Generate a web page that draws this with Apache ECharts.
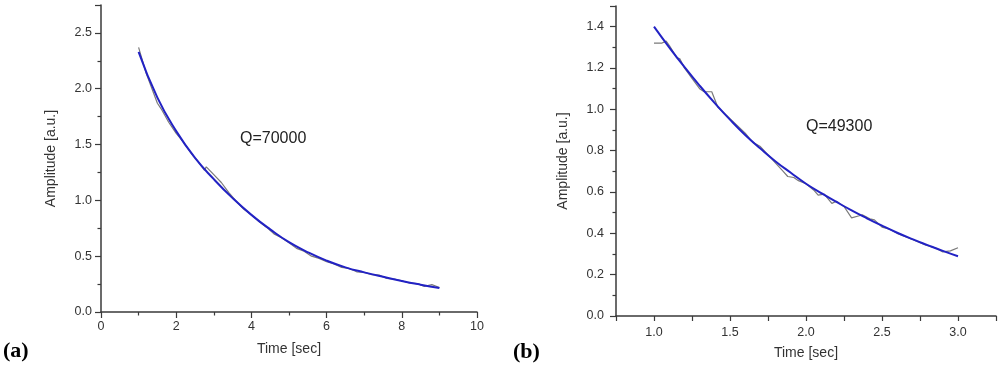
<!DOCTYPE html>
<html>
<head>
<meta charset="utf-8">
<script src="https://cdn.jsdelivr.net/npm/echarts@6/dist/echarts.min.js"></script>
<style>
html,body{margin:0;padding:0;background:#fff;}
#c{width:1000px;height:376px;}
</style>
</head>
<body>
<div id="c"></div>
<script>
// ---- Panel (a) data ----
const aFitTime = [1.0,1.5,2.0,2.5,3.0,3.5,4.0,4.5,5.0,5.5,6.0,6.5,7.0,7.5,8.0,8.5,9.0];
const aFitAmp  = [2.33,1.92,1.62,1.38,1.19,1.02,0.87,0.74,0.625,0.535,0.46,0.40,0.355,0.315,0.278,0.245,0.215];
const aMeasTime = [1.0,1.05,1.2,1.4,1.5,1.6,1.7,1.8,2.0,2.2,2.4,2.6,2.75,2.8,3.0,3.2,3.4,3.6,3.8,4.0,4.2,4.4,4.6,4.8,5.0,5.2,5.4,5.6,5.8,6.0,6.2,6.4,6.6,6.8,7.0,7.2,7.4,7.6,7.8,8.0,8.2,8.4,8.6,8.8,9.0];
const aMeasAmp  = [2.37,2.36,2.14,1.96,1.87,1.82,1.76,1.70,1.60,1.52,1.42,1.34,1.27,1.30,1.23,1.16,1.07,0.99,0.92,0.87,0.81,0.76,0.70,0.665,0.62,0.57,0.545,0.50,0.48,0.45,0.43,0.40,0.39,0.36,0.355,0.335,0.33,0.30,0.295,0.28,0.26,0.255,0.23,0.245,0.22];

// ---- Panel (b) data ----
const bFitTime = [1.0,1.1,1.2,1.3,1.4,1.5,1.6,1.7,1.8,1.9,2.0,2.1,2.2,2.3,2.4,2.5,2.6,2.7,2.8,2.9,3.0];
const bFitAmp  = [1.40,1.30,1.205,1.115,1.03,0.95,0.876,0.81,0.748,0.693,0.64,0.595,0.552,0.511,0.473,0.437,0.403,0.372,0.343,0.315,0.289];
const bMeasTime = [1.0,1.05,1.08,1.1,1.15,1.17,1.2,1.25,1.3,1.33,1.38,1.42,1.45,1.5,1.55,1.6,1.65,1.7,1.75,1.8,1.85,1.88,1.92,1.95,2.0,2.05,2.08,2.12,2.17,2.2,2.25,2.3,2.35,2.37,2.42,2.45,2.5,2.55,2.6,2.65,2.7,2.75,2.8,2.85,2.9,2.95,3.0];
const bMeasAmp  = [1.32,1.32,1.33,1.31,1.25,1.245,1.20,1.15,1.10,1.085,1.085,1.01,0.99,0.955,0.92,0.885,0.84,0.82,0.78,0.74,0.70,0.675,0.67,0.655,0.64,0.61,0.585,0.59,0.545,0.555,0.53,0.475,0.485,0.49,0.47,0.465,0.43,0.42,0.40,0.385,0.37,0.355,0.34,0.33,0.31,0.315,0.33];

// ---- Labels ----
const xName = 'Time [sec]';
const yName = 'Amplitude [a.u.]';
const qA = 'Q=70000';
const qB = 'Q=49300';
const panelA = '(a)';
const panelB = '(b)';

const pairs = (xs, ys) => xs.map((x, i) => [x, ys[i]]);
const FONT = 'Liberation Sans, Arial, sans-serif';
const axisColor = '#3a3a3a';
const labelColor = '#333';

function yAxisCfg(gridIndex, max, interval, margin, nameGap) {
  return {
    type: 'value', gridIndex, min: 0, max, interval,
    name: yName, nameLocation: 'middle', nameGap, nameRotate: 90,
    nameTextStyle: {fontFamily: FONT, fontSize: 14, color: labelColor},
    axisLine: {show: true, lineStyle: {color: axisColor, width: 1.5}},
    axisTick: {show: true, inside: false, length: 6, lineStyle: {color: axisColor, width: 1.2}},
    minorTick: {show: true, splitNumber: 2, length: 3.5, lineStyle: {color: axisColor, width: 1.2}},
    splitLine: {show: false}, minorSplitLine: {show: false},
    axisLabel: {fontFamily: FONT, fontSize: 12.5, color: labelColor, margin, showMaxLabel: false,
      formatter: v => v.toFixed(1)}
  };
}

const chart = echarts.init(document.getElementById('c'), null, {renderer: 'canvas'});
chart.setOption({
  animation: false,
  backgroundColor: '#fff',
  grid: [
    {left: 101, top: 5, width: 376, height: 307},
    {left: 616, top: 6, width: 380, height: 310}
  ],
  xAxis: [
    {
      type: 'value', gridIndex: 0, min: 0, max: 10, interval: 2,
      name: xName, nameLocation: 'middle', nameGap: 30,
      nameTextStyle: {fontFamily: FONT, fontSize: 14, color: labelColor},
      axisLine: {show: true, onZero: false, lineStyle: {color: axisColor, width: 1.5}},
      axisTick: {show: true, length: 6, lineStyle: {color: axisColor, width: 1.2}},
      minorTick: {show: true, splitNumber: 2, length: 3.5, lineStyle: {color: axisColor, width: 1.2}},
      splitLine: {show: false}, minorSplitLine: {show: false},
      axisLabel: {fontFamily: FONT, fontSize: 12.5, color: labelColor, margin: 8}
    },
    {
      type: 'value', gridIndex: 1, min: 0.75, max: 3.25, interval: 0.25,
      name: xName, nameLocation: 'middle', nameGap: 30,
      nameTextStyle: {fontFamily: FONT, fontSize: 14, color: labelColor},
      axisLine: {show: true, onZero: false, lineStyle: {color: axisColor, width: 1.5}},
      axisTick: {show: true, length: 5, lineStyle: {color: axisColor, width: 1.2}},
      splitLine: {show: false},
      axisLabel: {fontFamily: FONT, fontSize: 12.5, color: labelColor, margin: 10, interval: 0,
        showMinLabel: true, showMaxLabel: true,
        formatter: v => {
          const r = Math.round(v * 100) / 100;
          return (Math.abs(r * 2 - Math.round(r * 2)) < 1e-6 && r >= 1 && r <= 3) ? r.toFixed(1) : '';
        }}
    }
  ],
  yAxis: [
    yAxisCfg(0, 2.75, 0.5, 9, 43),
    yAxisCfg(1, 1.5, 0.2, 12, 46)
  ],
  series: [
    {type: 'line', xAxisIndex: 0, yAxisIndex: 0, data: pairs(aMeasTime, aMeasAmp),
      showSymbol: false, lineStyle: {color: '#7a7a7a', width: 1.2}, z: 2},
    {type: 'line', xAxisIndex: 0, yAxisIndex: 0, data: pairs(aFitTime, aFitAmp), smooth: 0.5,
      showSymbol: false, lineStyle: {color: '#2222c4', width: 2}, z: 3},
    {type: 'line', xAxisIndex: 1, yAxisIndex: 1, data: pairs(bMeasTime, bMeasAmp),
      showSymbol: false, lineStyle: {color: '#7a7a7a', width: 1.2}, z: 2},
    {type: 'line', xAxisIndex: 1, yAxisIndex: 1, data: pairs(bFitTime, bFitAmp), smooth: 0.5,
      showSymbol: false, lineStyle: {color: '#2222c4', width: 2}, z: 3}
  ],
  graphic: [
    {type: 'text', left: 240, top: 131, style: {text: qA, font: '16px ' + FONT, fill: '#222'}},
    {type: 'text', left: 806, top: 119, style: {text: qB, font: '16px ' + FONT, fill: '#222'}},
    {type: 'text', left: 3, top: 340, style: {text: panelA, font: 'bold 22px Liberation Serif, Times New Roman, serif', fill: '#000'}},
    {type: 'text', left: 513, top: 341, style: {text: panelB, font: 'bold 22px Liberation Serif, Times New Roman, serif', fill: '#000'}}
  ]
});
</script>
</body>
</html>
